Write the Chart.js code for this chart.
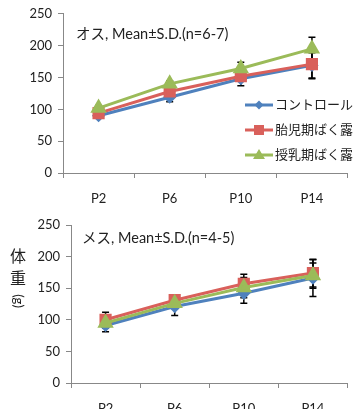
<!DOCTYPE html>
<html>
<head>
<meta charset="UTF-8">
<title>体重</title>
<script src="https://cdn.jsdelivr.net/npm/chart.js"></script>
<style>
  body { margin: 0; background: #fff; overflow: hidden; }
  #top { position: absolute; left: 0; top: 0; width: 357px; height: 205px; }
  #bot { position: absolute; left: 0; top: 205px; width: 357px; height: 204px; }
</style>
</head>
<body>
<div id="top"><canvas id="maleChart" width="357" height="205"></canvas></div>
<div id="bot"><canvas id="femaleChart" width="357" height="204"></canvas></div>
<script>
// categories and values
const days = ['P2', 'P6', 'P10', 'P14'];
const seriesNames = ['コントロール', '胎児期ばく露', '授乳期ばく露'];
const yTicks = [0, 50, 100, 150, 200, 250];

// オス (male)
const maleControl = [90, 119, 148, 169];
const maleFetal = [94, 128, 152, 171];
const maleLact = [102, 140, 164, 195];
const maleControlSD = [4, 7, 11, 20];
const maleFetalSD = [5, 6, 8, 23];
const maleLactSD = [4, 5, 10, 18];

// メス (female)
const femaleControl = [91, 121, 142, 166];
const femaleFetal = [100, 131, 157, 174];
const femaleLact = [95, 126, 151, 170];
const femaleControlSD = [10, 14, 16, 29];
const femaleFetalSD = [12, 6, 15, 22];
const femaleLactSD = [8, 8, 16, 20];

const blue = '#4F81BD';
const red = '#D9605B';
const green = '#9BBB59';
const FONT = "Lato, 'Noto Sans CJK JP', sans-serif";

function makeSets(a, b, c, sa, sb, sc) {
    return [
        { label: seriesNames[0], data: a, sd: sa, borderColor: blue, backgroundColor: blue,
          pointStyle: 'rectRot', pointRadius: 4.5, borderWidth: 3, order: 2 },
        { label: seriesNames[1], data: b, sd: sb, borderColor: red, backgroundColor: red,
          pointStyle: 'rect', pointRadius: 6.5, borderWidth: 3, order: 1 },
        { label: seriesNames[2], data: c, sd: sc, borderColor: green, backgroundColor: green,
          pointStyle: 'triangle', pointRadius: 6.5, borderWidth: 3, order: 0 }
    ];
}

// error bars drawn under the markers
const errorBars = {
    id: 'errorBars',
    beforeDatasetsDraw(chart) {
        const ctx = chart.ctx;
        const y = chart.scales.y;
        ctx.save();
        ctx.strokeStyle = '#000';
        ctx.lineWidth = 1.5;
        chart.data.datasets.forEach((ds, i) => {
            const meta = chart.getDatasetMeta(i);
            meta.data.forEach((pt, j) => {
                const hi = y.getPixelForValue(ds.data[j] + ds.sd[j]);
                const lo = y.getPixelForValue(ds.data[j] - ds.sd[j]);
                ctx.beginPath();
                ctx.moveTo(pt.x, hi); ctx.lineTo(pt.x, lo);
                ctx.moveTo(pt.x - 3.5, hi); ctx.lineTo(pt.x + 3.5, hi);
                ctx.moveTo(pt.x - 3.5, lo); ctx.lineTo(pt.x + 3.5, lo);
                ctx.stroke();
            });
        });
        ctx.restore();
    }
};

// texts inside the plot: title, legend, y title
const extras = {
    id: 'extras',
    afterDraw(chart, args, opts) {
        const ctx = chart.ctx;
        ctx.save();
        ctx.fillStyle = '#222';
        ctx.textBaseline = 'middle';
        ctx.font = '14.5px ' + FONT;
        ctx.fillText(opts.title, opts.titleX, opts.titleY);
        if (opts.legend) {
            chart.data.datasets.forEach((ds, i) => {
                const ly = 105 + i * 25;
                ctx.strokeStyle = ds.borderColor;
                ctx.lineWidth = 3;
                ctx.beginPath();
                ctx.moveTo(245, ly); ctx.lineTo(273, ly);
                ctx.stroke();
                ctx.fillStyle = ds.backgroundColor;
                ctx.beginPath();
                if (ds.pointStyle === 'rectRot') {
                    ctx.moveTo(259, ly - 4.5); ctx.lineTo(263.5, ly); ctx.lineTo(259, ly + 4.5); ctx.lineTo(254.5, ly);
                } else if (ds.pointStyle === 'rect') {
                    ctx.rect(254, ly - 5, 10, 10);
                } else {
                    ctx.moveTo(259, ly - 6); ctx.lineTo(265, ly + 4); ctx.lineTo(253, ly + 4);
                }
                ctx.closePath();
                ctx.fill();
                ctx.fillStyle = '#222';
                ctx.font = '13px ' + FONT;
                ctx.fillText(ds.label, 275, ly);
            });
        }
        if (opts.yTitle) {
            ctx.font = '16px ' + FONT;
            ctx.textAlign = 'center';
            ctx.fillText('体', 18, 52);
            ctx.fillText('重', 18, 74);
            ctx.translate(18, 96);
            ctx.rotate(Math.PI / 2);
            ctx.font = '13px ' + FONT;
            ctx.fillText('(g)', 0, 0);
        }
        ctx.restore();
    }
};

function makeChart(id, sets, axisW, axisH, padTop, extraOpts) {
    return new Chart(document.getElementById(id), {
        type: 'line',
        data: { labels: days, datasets: sets },
        options: {
            responsive: false,
            animation: false,
            layout: { padding: { top: padTop, right: 0, left: 0, bottom: 0 } },
            plugins: { legend: { display: false }, tooltip: { enabled: false }, extras: extraOpts },
            scales: {
                x: {
                    offset: true,
                    grid: { offset: true, drawOnChartArea: false, tickLength: 5, color: '#888' },
                    border: { color: '#888' },
                    ticks: { color: '#222', padding: 13, font: { family: FONT, size: 13 } },
                    afterFit(s) { s.height = axisH; }
                },
                y: {
                    min: 0, max: 250,
                    afterBuildTicks(s) { s.ticks = yTicks.map(v => ({ value: v })); },
                    grid: { drawOnChartArea: false, tickLength: 5, color: '#888' },
                    border: { color: '#888' },
                    ticks: { color: '#222', padding: 6, font: { family: FONT, size: 13 } },
                    afterFit(s) { s.width = axisW; }
                }
            }
        },
        plugins: [errorBars, extras]
    });
}

makeChart('maleChart',
    makeSets(maleControl, maleFetal, maleLact, maleControlSD, maleFetalSD, maleLactSD),
    63, 32, 13,
    { title: 'オス, Mean±S.D.(n=6-7)', titleX: 76, titleY: 34, legend: true, yTitle: false });

makeChart('femaleChart',
    makeSets(femaleControl, femaleFetal, femaleLact, femaleControlSD, femaleFetalSD, femaleLactSD),
    71, 26, 20,
    { title: 'メス, Mean±S.D.(n=4-5)', titleX: 82, titleY: 33, legend: false, yTitle: true });
</script>
</body>
</html>
